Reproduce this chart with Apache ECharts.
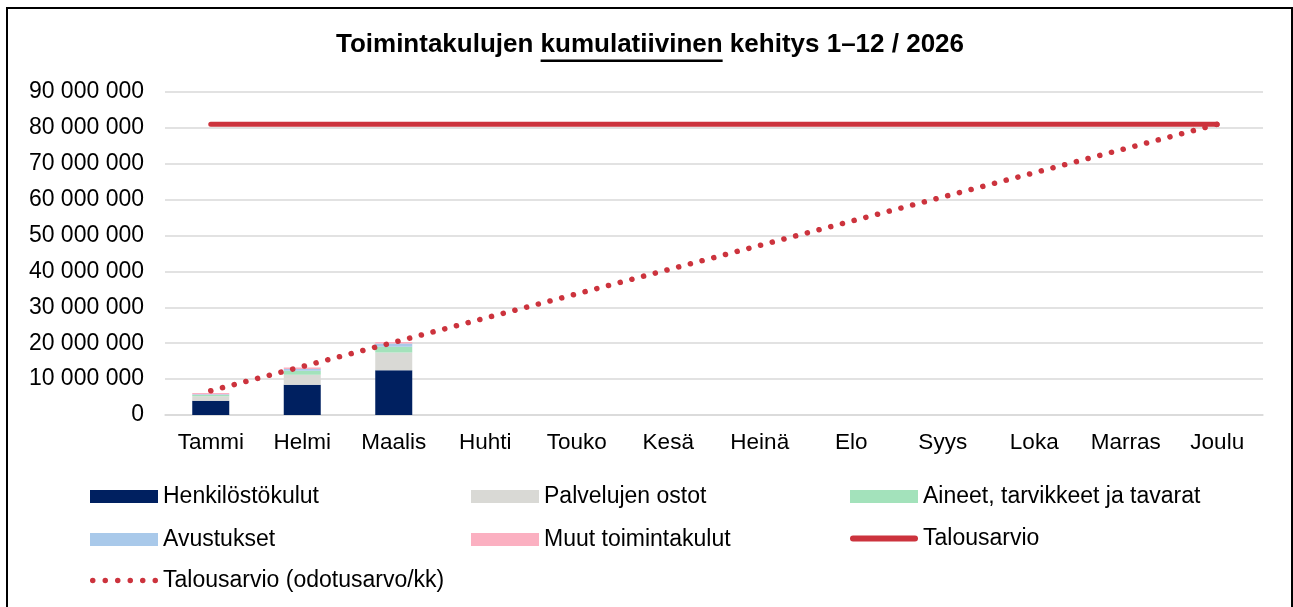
<!DOCTYPE html>
<html>
<head>
<meta charset="utf-8">
<script src="https://cdn.jsdelivr.net/npm/echarts@6/dist/echarts.min.js"></script>
<style>
  html, body { margin: 0; padding: 0; background: #fff; }
  #chart { width: 1293px; height: 607px; }
</style>
</head>
<body>
<div id="chart"></div>
<script>
// Kuukaudet
var months = ['Tammi', 'Helmi', 'Maalis', 'Huhti', 'Touko', 'Kesä', 'Heinä', 'Elo', 'Syys', 'Loka', 'Marras', 'Joulu'];

// Kumulatiiviset toteumat (euroa), luettu kuvasta
var henkilosto = [4000000, 8400000, 12500000, null, null, null, null, null, null, null, null, null];
var palvelut   = [1200000, 2800000, 4900000, null, null, null, null, null, null, null, null, null];
var aineet     = [400000, 1100000, 1600000, null, null, null, null, null, null, null, null, null];
var avustukset = [200000, 550000, 900000, null, null, null, null, null, null, null, null, null];
var muut       = [300000, 400000, 450000, null, null, null, null, null, null, null, null, null];

// Talousarvio ja odotusarvo kuukausittain
var talousarvio = [81000000, 81000000, 81000000, 81000000, 81000000, 81000000, 81000000, 81000000, 81000000, 81000000, 81000000, 81000000];
var odotusarvo = [6750000, 13500000, 20250000, 27000000, 33750000, 40500000, 47250000, 54000000, 60750000, 67500000, 74250000, 81000000];

var titleText = 'Toimintakulujen kumulatiivinen kehitys 1–12 / 2026';
var FONT = '"Liberation Sans", Arial, sans-serif';
var RED = '#cc333d';

function fmt(v) {
    return String(v).replace(/\B(?=(\d{3})+(?!\d))/g, ' ');
}

// underline position for "kumulatiivinen"
var ctx = document.createElement('canvas').getContext('2d');
ctx.font = 'bold 26px ' + FONT;
var wAll = ctx.measureText(titleText).width;
var wPre = ctx.measureText('Toimintakulujen ').width;
var wWord = ctx.measureText('kumulatiivinen').width;
var titleCx = 650;
var ulX = titleCx - wAll / 2 + wPre;

// legend icons for the two lines
var capsuleIcon = 'path://M3,0 L65,0 A3,3 0 0 1 65,6 L3,6 A3,3 0 0 1 3,0 Z';
var dotsIcon = 'path://';
for (var i = 0; i < 6; i++) {
    var cx = 2.75 + i * 12.5;
    dotsIcon += 'M' + (cx - 2.75) + ',2.75 A2.75,2.75 0 1 0 ' + (cx + 2.75) + ',2.75 A2.75,2.75 0 1 0 ' + (cx - 2.75) + ',2.75 Z ';
}

var myChart = echarts.init(document.getElementById('chart'));

function barSeries(name, data, color) {
    return {
        name: name,
        type: 'bar',
        stack: 'kulut',
        barWidth: 37,
        data: data,
        itemStyle: { color: color },
        emphasis: { disabled: true }
    };
}

var legendText = { fontSize: 23, color: '#000', fontFamily: FONT, lineHeight: 22 };
function legendBox(left, top, iconH, items) {
    return {
        orient: 'vertical', left: left, top: top, padding: 0,
        itemWidth: 68, itemHeight: iconH, itemGap: 20,
        textStyle: legendText,
        data: items
    };
}

var chartOption = {
    animation: false,
    textStyle: { fontFamily: FONT },
    title: {
        text: titleText,
        left: titleCx,
        textAlign: 'center',
        top: 32,
        padding: 0,
        textStyle: { fontSize: 26, fontWeight: 'bold', color: '#000', fontFamily: FONT }
    },
    graphic: [
        {
            type: 'rect',
            shape: { x: 7, y: 8, width: 1285, height: 640 },
            style: { fill: 'none', stroke: '#000', lineWidth: 2 },
            silent: true
        },
        {
            type: 'rect',
            shape: { x: ulX, y: 59.5, width: wWord, height: 2.5 },
            style: { fill: '#000' },
            silent: true
        }
    ],
    grid: { left: 165, right: 30, top: 92, bottom: 192 },
    legend: [
        legendBox(90, 485, 13, [
            { name: 'Henkilöstökulut', icon: 'rect' },
            { name: 'Avustukset', icon: 'rect' }
        ]),
        legendBox(90, 569, 6, [
            { name: 'Talousarvio (odotusarvo/kk)', icon: dotsIcon, itemStyle: { color: RED, borderWidth: 0 }, lineStyle: { width: 0 } }
        ]),
        legendBox(471, 485, 13, [
            { name: 'Palvelujen ostot', icon: 'rect' },
            { name: 'Muut toimintakulut', icon: 'rect' }
        ]),
        legendBox(850, 485, 13, [
            { name: 'Aineet, tarvikkeet ja tavarat', icon: 'rect' }
        ]),
        legendBox(850, 527, 6, [
            { name: 'Talousarvio', icon: capsuleIcon, itemStyle: { color: RED, borderWidth: 0 }, lineStyle: { width: 0 } }
        ])
    ],
    xAxis: {
        type: 'category',
        data: months,
        axisTick: { show: false },
        axisLine: { lineStyle: { color: '#d9d9d9', width: 1.5 } },
        axisLabel: { interval: 0, fontSize: 22.5, color: '#000', margin: 16, fontFamily: FONT }
    },
    yAxis: {
        type: 'value',
        min: 0,
        max: 90000000,
        interval: 10000000,
        axisLine: { show: false },
        axisTick: { show: false },
        splitLine: { lineStyle: { color: '#d9d9d9', width: 1.5 } },
        axisLabel: { fontSize: 23, color: '#000', margin: 21, fontFamily: FONT, formatter: fmt }
    },
    series: [
        barSeries('Henkilöstökulut', henkilosto, '#002060'),
        barSeries('Palvelujen ostot', palvelut, '#d9d9d5'),
        barSeries('Aineet, tarvikkeet ja tavarat', aineet, '#a3e2bb'),
        barSeries('Avustukset', avustukset, '#a9c9ea'),
        barSeries('Muut toimintakulut', muut, '#fbb0c1'),
        {
            name: 'Talousarvio',
            type: 'line',
            data: talousarvio,
            symbol: 'none',
            lineStyle: { color: RED, width: 5, cap: 'round' },
            itemStyle: { color: RED },
            z: 5
        },
        {
            name: 'Talousarvio (odotusarvo/kk)',
            type: 'line',
            data: odotusarvo,
            symbol: 'none',
            lineStyle: { color: RED, width: 5.5, type: [0.1, 12], cap: 'round' },
            itemStyle: { color: RED },
            z: 6
        }
    ]
};
myChart.setOption(chartOption);
</script>
</body>
</html>
